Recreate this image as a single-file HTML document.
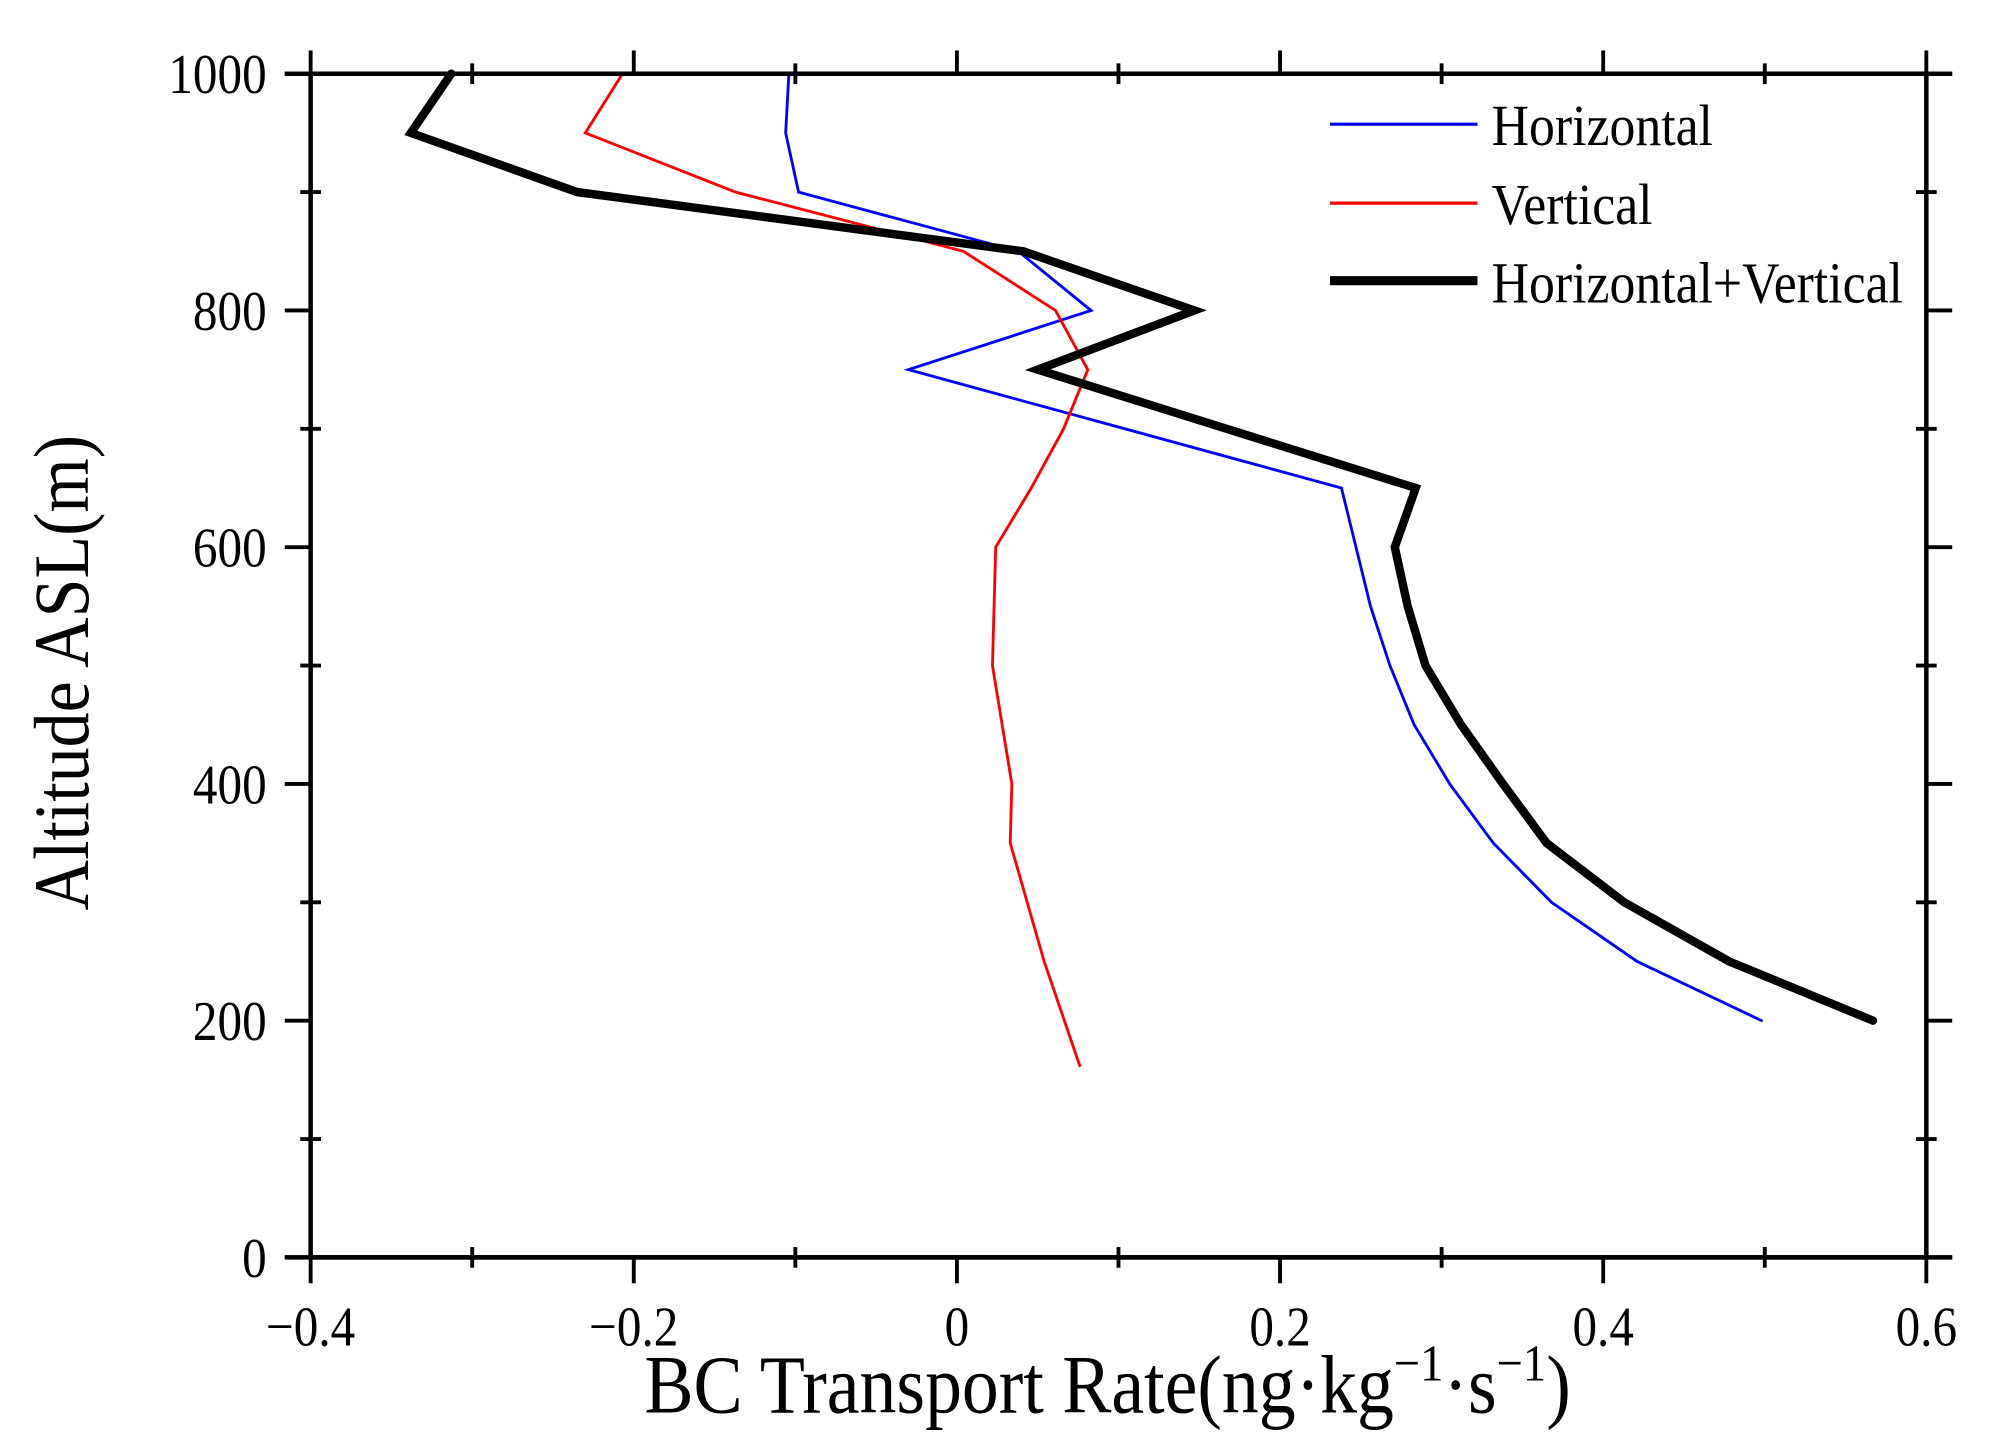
<!DOCTYPE html>
<html><head><meta charset="utf-8"><style>html,body{margin:0;padding:0;background:#fff}svg{display:block}</style></head>
<body>
<svg id="chart" width="2008" height="1454" viewBox="0 0 1552 1124" xmlns="http://www.w3.org/2000/svg" font-family="'Liberation Serif', serif">
<g id="marks"></g>
<g id="axes"></g>
<text transform="translate(498,1092) scale(1,1.12)" font-size="57">BC Transport Rate(ng·kg<tspan dy="-22" font-size="36">−1</tspan><tspan dy="22">·s</tspan><tspan dy="-22" font-size="36">−1</tspan><tspan dy="22">)</tspan></text>
<text transform="translate(68,520) rotate(-90) scale(1,1.12)" text-anchor="middle" font-size="54">Altitude ASL(m)</text>
<g>
<line x1="1028" y1="96" x2="1142" y2="96" stroke="#0000ff" stroke-width="2.5"/>
<text transform="translate(1153,112) scale(1,1.12)" font-size="40">Horizontal</text>
<line x1="1028" y1="157" x2="1142" y2="157" stroke="#ff0000" stroke-width="2.5"/>
<text transform="translate(1153,173) scale(1,1.12)" font-size="40">Vertical</text>
<line x1="1028" y1="217" x2="1142" y2="217" stroke="#000" stroke-width="7"/>
<text transform="translate(1153,234) scale(1,1.12)" font-size="40">Horizontal+Vertical</text>
</g>
<script>
const hAlt=[1000,950,900,850,800,750,650,600,550,500,450,400,350,300,250,200];
const hVal=[-0.104,-0.106,-0.098,0.038,0.083,-0.030,0.238,0.247,0.256,0.268,0.283,0.305,0.332,0.368,0.421,0.498];
const vAlt=[1000,950,900,850,800,750,700,650,600,500,400,350,250,162];
const vVal=[-0.207,-0.230,-0.137,0.004,0.061,0.081,0.066,0.046,0.024,0.022,0.034,0.033,0.054,0.076];
const tAlt=[1000,950,900,850,800,750,650,600,550,500,450,400,350,300,250,200];
const tVal=[-0.313,-0.338,-0.235,0.041,0.147,0.050,0.284,0.271,0.279,0.290,0.312,0.338,0.365,0.413,0.478,0.567];
const xTicks=[-0.4,-0.2,0,0.2,0.4,0.6];
const xTickLabels=["−0.4","−0.2","0","0.2","0.4","0.6"];
const yTicks=[0,200,400,600,800,1000];
const yTickLabels=["0","200","400","600","800","1000"];
const X0=240,X1=1489,Y0=972,Y1=57;
const xs=v=>X0+(v+0.4)/1.0*(X1-X0);
const ys=v=>Y0-v/1000*(Y0-Y1);
const NS="http://www.w3.org/2000/svg";
const marks=document.getElementById('marks'),axes=document.getElementById('axes');
function line(p,x1,y1,x2,y2,w,c){const l=document.createElementNS(NS,'line');l.setAttribute('x1',x1);l.setAttribute('y1',y1);l.setAttribute('x2',x2);l.setAttribute('y2',y2);l.setAttribute('stroke',c||'#000');l.setAttribute('stroke-width',w);p.appendChild(l);return l;}
function series(a,v,c,w,name){const p=document.createElementNS(NS,'polyline');
p.setAttribute('points',a.map((y,i)=>xs(v[i])+','+ys(y)).join(' '));
p.setAttribute('fill','none');p.setAttribute('stroke',c);p.setAttribute('stroke-width',w);p.setAttribute('stroke-linejoin','miter');p.setAttribute('stroke-linecap','round');


marks.appendChild(p);}
series(hAlt,hVal,'#0000ff',2.2,'horizontal-line');
series(vAlt,vVal,'#ff0000',2.2,'vertical-line');
series(tAlt,tVal,'#000',6.5,'total-line');
const fr=document.createElementNS(NS,'rect');fr.setAttribute('x',X0);fr.setAttribute('y',Y1);fr.setAttribute('width',X1-X0);fr.setAttribute('height',Y0-Y1);fr.setAttribute('fill','none');fr.setAttribute('stroke','#000');fr.setAttribute('stroke-width',3.5);


axes.appendChild(fr);
line(axes,X0,Y1,X1+20,Y1,3.5);line(axes,X0,Y0,X1+20,Y0,3.5);
line(axes,X0-20,Y1,X0,Y1,3.5);line(axes,X0-20,Y0,X0,Y0,3.5);
for(let k=0;k<=10;k++){const v=-0.4+k*0.1;const x=xs(v);const big=k%2===0;
line(axes,x,Y0-(big?0:8),x,Y0+(big?20:8),3);line(axes,x,Y1-(big?18:8),x,Y1+(big?0:8),3);}
for(let k=0;k<=10;k++){const v=k*100;const y=ys(v);const big=k%2===0;
line(axes,X0-(big?20:8),y,X0+(big?0:8),y,3);line(axes,X1-(big?0:8),y,X1+(big?20:8),y,3);}
xTicks.forEach((v,i)=>{const t=document.createElementNS(NS,'text');t.setAttribute('transform','translate('+xs(v)+',1040) scale(1,1.15)');t.setAttribute('text-anchor','middle');t.setAttribute('font-size','38');t.textContent=xTickLabels[i];


axes.appendChild(t);});
yTicks.forEach((v,i)=>{const t=document.createElementNS(NS,'text');t.setAttribute('transform','translate(206,'+(ys(v)+15)+') scale(1,1.15)');t.setAttribute('text-anchor','end');t.setAttribute('font-size','38');t.textContent=yTickLabels[i];


axes.appendChild(t);});
</script>
</svg>
</body></html>
